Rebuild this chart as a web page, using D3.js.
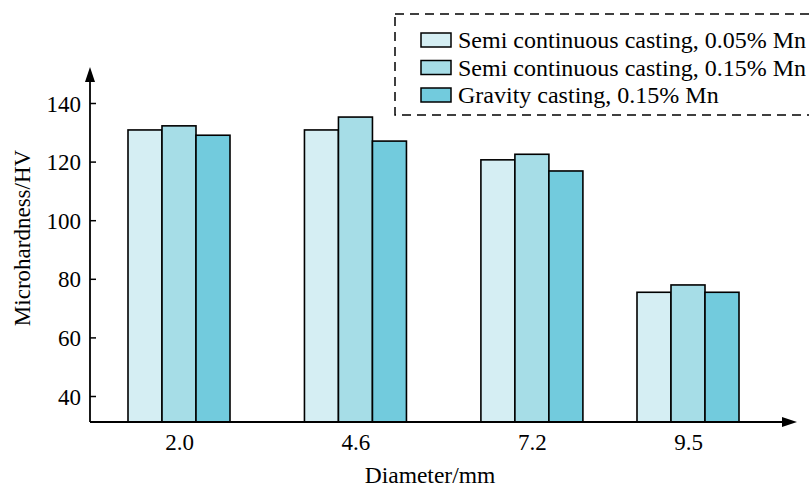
<!DOCTYPE html>
<html><head><meta charset="utf-8">
<script src="https://cdn.jsdelivr.net/npm/d3@7"></script>
<style>body{margin:0;background:#fff}svg{display:block}text{font-family:"Liberation Serif","Times New Roman",serif;fill:#000}</style>
</head><body><svg id="c" width="809" height="488"></svg>
<script>
const diameters = [2.0, 4.6, 7.2, 9.5];
const diameterLabels = ["2.0", "4.6", "7.2", "9.5"];
const seriesNames = ["Semi continuous casting, 0.05% Mn", "Semi continuous casting, 0.15% Mn", "Gravity casting, 0.15% Mn"];
const semi005 = [130.8, 130.8, 120.6, 75.4];
const semi015 = [132.2, 135.2, 122.5, 77.9];
const gravity015 = [129.0, 127.0, 116.8, 75.4];
const yTicks = [40, 60, 80, 100, 120, 140];
const colors = ["#d5eef3", "#a6dde7", "#72cbdd"];
const series = [semi005, semi015, gravity015];

const svg = d3.select("#c");
const x0 = 90, yBase = 422;
const x = d3.scaleLinear().domain([2.0, 9.5]).range([179, 688]);
const y = d3.scaleLinear().domain([40, 140]).range([396, 103]);
const barW = 34;
const sub = d3.scaleBand().domain(d3.range(3)).range([-1.5*barW, 1.5*barW]);

// bars
series.forEach((vals, si) => {
  svg.append("g").selectAll("rect").data(vals).join("rect")
    .attr("x", (d, i) => x(diameters[i]) + sub(si))
    .attr("y", d => y(d))
    .attr("width", sub.bandwidth())
    .attr("height", d => yBase - y(d))
    .attr("fill", colors[si])
    .attr("stroke", "#000").attr("stroke-width", 1.6);
});

// y axis
const yAxis = d3.axisRight(y).tickValues(yTicks).tickSize(6).tickFormat(d3.format("d"));
const gy = svg.append("g").attr("transform", `translate(${x0},0)`).call(yAxis);
gy.select(".domain").remove();
gy.selectAll(".tick line").attr("stroke", "#000").attr("stroke-width", 1.5);
gy.selectAll(".tick text").attr("x", -9).attr("text-anchor", "end").attr("font-size", 23).attr("dy", "0.35em");
svg.append("line").attr("x1", x0).attr("x2", x0).attr("y1", yBase).attr("y2", 78).attr("stroke", "#000").attr("stroke-width", 1.8);
svg.append("path").attr("d", `M${x0},67 L${x0-5},82 L${x0+5},82 Z`).attr("fill", "#000");

// x axis
const xAxis = d3.axisBottom(x).tickValues(diameters).tickSize(0).tickFormat((d, i) => diameterLabels[i]);
const gx = svg.append("g").attr("transform", `translate(0,${yBase})`).call(xAxis);
gx.select(".domain").remove();
gx.selectAll(".tick text").attr("font-size", 23).attr("dy", "0").attr("y", 28);
svg.append("line").attr("x1", x0).attr("x2", 785).attr("y1", yBase).attr("y2", yBase).attr("stroke", "#000").attr("stroke-width", 1.8);
svg.append("path").attr("d", `M797,${yBase} L782,${yBase-5} L782,${yBase+5} Z`).attr("fill", "#000");

// titles
svg.append("text").attr("x", 430).attr("y", 483).attr("text-anchor", "middle").attr("font-size", 23.5).text("Diameter/mm");
svg.append("text").attr("transform", "translate(30,238) rotate(-90)").attr("text-anchor", "middle").attr("font-size", 23).text("Microhardness/HV");

// legend
svg.append("rect").attr("x", 395).attr("y", 14).attr("width", 430).attr("height", 101)
  .attr("fill", "none").attr("stroke", "#000").attr("stroke-width", 1.5).attr("stroke-dasharray", "9,6");
const lg = svg.append("g").selectAll("g").data(seriesNames).join("g")
  .attr("transform", (d, i) => `translate(421,${40 + i*27.5})`);
lg.append("rect").attr("x", 0).attr("y", -7).attr("width", 30).attr("height", 14)
  .attr("fill", (d, i) => colors[i]).attr("stroke", "#000").attr("stroke-width", 1.5);
lg.append("text").attr("x", 37).attr("dy", "0.35em").attr("font-size", 24).text(d => d);
</script></body></html>
